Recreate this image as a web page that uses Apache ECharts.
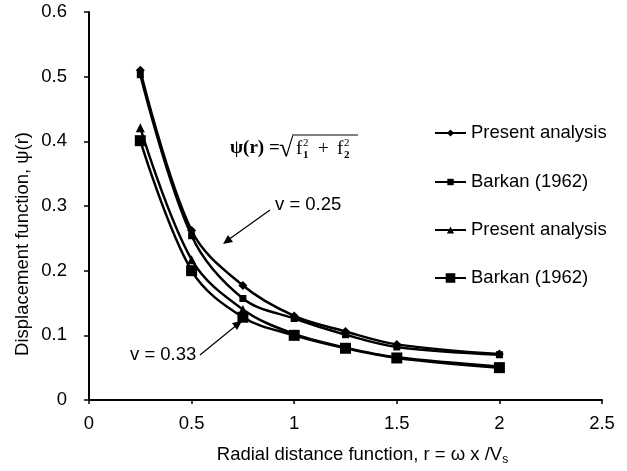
<!DOCTYPE html>
<html><head><meta charset="utf-8">
<script src="https://cdn.jsdelivr.net/npm/echarts@6/dist/echarts.min.js"></script>
<style>html,body{margin:0;padding:0;background:#fff}#c{width:627px;height:471px}</style>
</head><body><div id="c"></div>
<script>
const xValues = [0.25, 0.5, 0.75, 1, 1.25, 1.5, 2];
const presentV025 = [0.51, 0.262, 0.177, 0.13, 0.106, 0.086, 0.071];
const barkanV025  = [0.503, 0.254, 0.157, 0.126, 0.101, 0.082, 0.07];
const presentV033 = [0.421, 0.217, 0.14, 0.102, 0.081, 0.066, 0.052];
const barkanV033  = [0.401, 0.2, 0.128, 0.1, 0.08, 0.065, 0.05];
const seriesNames = ['Present analysis', 'Barkan (1962)', 'Present analysis\u200b', 'Barkan (1962)\u200b'];
const yTicks = ['0', '0.1', '0.2', '0.3', '0.4', '0.5', '0.6'];
const xTicks = ['0', '0.5', '1', '1.5', '2', '2.5'];

const pairs = v => xValues.map((x, i) => [x, v[i]]);
const FONT = 'Liberation Sans, Arial, sans-serif';
const SERIF = 'Liberation Serif, Times New Roman, serif';
const FS = 18.5;
const chart = echarts.init(document.getElementById('c'), null, {renderer: 'canvas'});

function mk(name, data, symbol, size) {
  return {
    name, type: 'line', data: pairs(data), smooth: 0.35,
    symbol, symbolSize: size, showSymbol: true,
    lineStyle: {color: '#000', width: 2.5},
    itemStyle: {color: '#000', borderWidth: 0},
    emphasis: {disabled: true}
  };
}
const legendTops = [133, 182, 230, 278];
const legendIconH = [9, 8, 9, 12];
const legends = seriesNames.map((n, i) => ({
  orient: 'vertical', left: 434, top: legendTops[i] - 11, itemWidth: 31, itemHeight: legendIconH[i],
  padding: 0, selectedMode: false,
  textStyle: {fontFamily: FONT, fontSize: FS, color: '#000', lineHeight: 22},
  data: [n]
}));

chart.setOption({
  animation: false,
  grid: {left: 89, right: 25, top: 12, bottom: 68, containLabel: false},
  legend: legends,
  xAxis: {
    type: 'value', min: 0, max: 2.5, interval: 0.5,
    axisLine: {lineStyle: {color: '#000', width: 2}},
    axisTick: {show: true, length: 4, lineStyle: {color: '#000', width: 1.5}},
    splitLine: {show: false},
    axisLabel: {color: '#000', fontFamily: FONT, fontSize: FS, margin: 14,
      formatter: v => xTicks[Math.round(v / 0.5)]},
    name: 'Radial distance function, r = \u03c9 x /V{sub|s}',
    nameLocation: 'middle', nameGap: 44,
    nameTextStyle: {color: '#000', fontFamily: FONT, fontSize: FS, padding: [0, 0, 0, 34],
      rich: {sub: {fontSize: 12, fontFamily: FONT, color: '#000', padding: [10, 0, 0, 0]}}}
  },
  yAxis: {
    type: 'value', min: 0, max: 0.6, interval: 0.1,
    axisLine: {show: true, lineStyle: {color: '#000', width: 2}},
    axisTick: {show: true, length: 5, lineStyle: {color: '#000', width: 1.5}},
    splitLine: {show: false},
    axisLabel: {color: '#000', fontFamily: FONT, fontSize: FS, margin: 22,
      formatter: v => yTicks[Math.round(v / 0.1)]}
  },
  series: [
    mk(seriesNames[0], presentV025, 'diamond', 9),
    mk(seriesNames[1], barkanV025, 'rect', 7),
    mk(seriesNames[2], presentV033, 'triangle', 9),
    mk(seriesNames[3], barkanV033, 'rect', 11)
  ],
  graphic: [
    {type: 'text', x: 23, y: 244, rotation: Math.PI / 2,
      style: {text: 'Displacement function, \u03c8(r)', font: FS + 'px Liberation Sans', fill: '#000', align: 'center', verticalAlign: 'middle'}},
    {type: 'text', x: 230, y: 148, style: {text: '\u03c8(r) =', font: 'bold 19px ' + SERIF, fill: '#000', verticalAlign: 'middle'}},
    {type: 'text', x: 279, y: 149, style: {text: '\u221a', font: 'bold 26px ' + SERIF, fill: '#000', verticalAlign: 'middle'}},
    {type: 'line', shape: {x1: 292, y1: 135, x2: 358, y2: 135}, style: {stroke: '#000', lineWidth: 1.2}},
    {type: 'text', x: 296, y: 149, style: {text: 'f', font: '19px ' + SERIF, fill: '#000', verticalAlign: 'middle'}},
    {type: 'text', x: 303, y: 143, style: {text: '2', font: '11px ' + SERIF, fill: '#000', verticalAlign: 'middle'}},
    {type: 'text', x: 303, y: 155, style: {text: '1', font: 'bold 11px ' + SERIF, fill: '#000', verticalAlign: 'middle'}},
    {type: 'text', x: 318, y: 149, style: {text: '+', font: '19px ' + SERIF, fill: '#000', verticalAlign: 'middle'}},
    {type: 'text', x: 337, y: 149, style: {text: 'f', font: '19px ' + SERIF, fill: '#000', verticalAlign: 'middle'}},
    {type: 'text', x: 344, y: 143, style: {text: '2', font: '11px ' + SERIF, fill: '#000', verticalAlign: 'middle'}},
    {type: 'text', x: 344, y: 155, style: {text: '2', font: 'bold 11px ' + SERIF, fill: '#000', verticalAlign: 'middle'}},
    {type: 'text', x: 275, y: 205, style: {text: 'v = 0.25', font: FS + 'px Liberation Sans', fill: '#000', verticalAlign: 'middle'}},
    {type: 'text', x: 130, y: 355, style: {text: 'v = 0.33', font: FS + 'px Liberation Sans', fill: '#000', verticalAlign: 'middle'}},
    {type: 'line', shape: {x1: 270, y1: 210, x2: 228, y2: 240}, style: {stroke: '#000', lineWidth: 1.2}},
    {type: 'polygon', shape: {points: [[223, 244], [228, 235], [233, 242]]}, style: {fill: '#000'}},
    {type: 'line', shape: {x1: 200, y1: 355, x2: 238, y2: 324}, style: {stroke: '#000', lineWidth: 1.2}},
    {type: 'polygon', shape: {points: [[242, 321], [232, 323], [237, 330]]}, style: {fill: '#000'}}
  ]
});
</script></body></html>
